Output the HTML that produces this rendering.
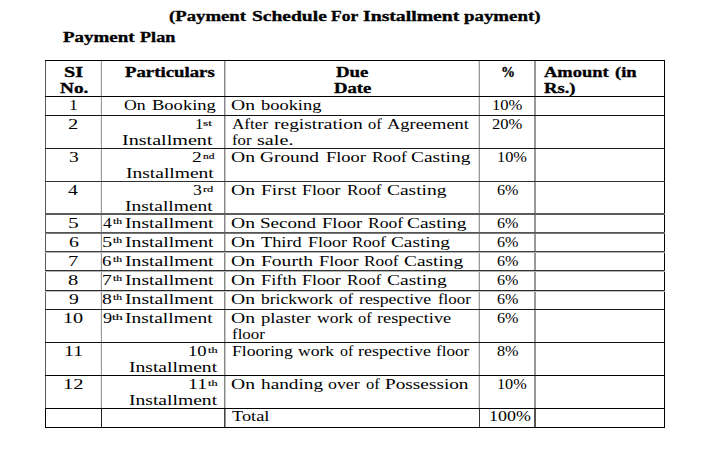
<!DOCTYPE html>
<html><head><meta charset="utf-8"><style>
html,body{margin:0;padding:0;background:#fff;width:720px;height:457px;overflow:hidden}
body{position:relative;font-family:"Liberation Serif",serif;color:#000}
.t{position:absolute;white-space:pre;line-height:40px;transform-origin:0 0}
.l{position:absolute}
.b14_0{font-weight:bold;font-size:14.0px;-webkit-text-stroke:0.3px #000}
.r14_0{font-weight:normal;font-size:14.0px}
.r9_0{font-weight:normal;font-size:9.0px;-webkit-text-stroke:0.15px #000}

</style></head><body>
<div class="l" style="left:45px;top:60px;width:1px;height:348px;background:#5a5a5a"></div><div class="l" style="left:45px;top:408px;width:1px;height:20px;background:#000"></div><div class="l" style="left:100px;top:60px;width:1px;height:348px;background:#eee"></div><div class="l" style="left:101px;top:60px;width:1px;height:348px;background:#999"></div><div class="l" style="left:101px;top:408px;width:1px;height:20px;background:#222"></div><div class="l" style="left:224px;top:60px;width:1px;height:348px;background:#888"></div><div class="l" style="left:225px;top:60px;width:1px;height:348px;background:#c8c8c8"></div><div class="l" style="left:224px;top:408px;width:1px;height:20px;background:#444"></div><div class="l" style="left:225px;top:408px;width:1px;height:20px;background:#999"></div><div class="l" style="left:478px;top:60px;width:1px;height:348px;background:#e0e0e0"></div><div class="l" style="left:479px;top:60px;width:1px;height:348px;background:#999"></div><div class="l" style="left:479px;top:408px;width:1px;height:20px;background:#333"></div><div class="l" style="left:534px;top:60px;width:1px;height:348px;background:#999"></div><div class="l" style="left:535px;top:60px;width:1px;height:348px;background:#999"></div><div class="l" style="left:534px;top:408px;width:1px;height:20px;background:#555"></div><div class="l" style="left:535px;top:408px;width:1px;height:20px;background:#555"></div><div class="l" style="left:664px;top:60px;width:1px;height:368px;background:#000"></div><div class="l" style="left:45px;top:60px;width:620px;height:1px;background:#000"></div><div class="l" style="left:45px;top:96px;width:620px;height:1px;background:#000"></div><div class="l" style="left:45px;top:115px;width:620px;height:1px;background:#111"></div><div class="l" style="left:45px;top:148px;width:620px;height:1px;background:#1a1a1a"></div><div class="l" style="left:45px;top:181px;width:620px;height:1px;background:#303030"></div><div class="l" style="left:45px;top:213px;width:620px;height:1px;background:#5c5c5c"></div><div class="l" style="left:45px;top:214px;width:620px;height:1px;background:#5c5c5c"></div><div class="l" style="left:45px;top:232px;width:620px;height:1px;background:#555"></div><div class="l" style="left:45px;top:233px;width:620px;height:1px;background:#777"></div><div class="l" style="left:45px;top:251px;width:620px;height:1px;background:#444"></div><div class="l" style="left:45px;top:252px;width:620px;height:1px;background:#b0b0b0"></div><div class="l" style="left:45px;top:270px;width:620px;height:1px;background:#333"></div><div class="l" style="left:45px;top:271px;width:620px;height:1px;background:#b0b0b0"></div><div class="l" style="left:45px;top:290px;width:620px;height:1px;background:#2a2a2a"></div><div class="l" style="left:45px;top:291px;width:620px;height:1px;background:#c0c0c0"></div><div class="l" style="left:45px;top:309px;width:620px;height:1px;background:#1c1c1c"></div><div class="l" style="left:45px;top:342px;width:620px;height:1px;background:#0f0f0f"></div><div class="l" style="left:45px;top:375px;width:620px;height:1px;background:#000"></div><div class="l" style="left:45px;top:408px;width:620px;height:1px;background:#000"></div><div class="l" style="left:45px;top:427px;width:620px;height:1px;background:#000"></div>
<div class="t b14_0" style="left:169.43px;top:-3.20px;transform:scaleX(1.3368)">(Payment</div>
<div class="t b14_0" style="left:251.55px;top:-3.20px;transform:scaleX(1.3934)">Schedule</div>
<div class="t b14_0" style="left:330.89px;top:-3.20px;transform:scaleX(1.2471)">For</div>
<div class="t b14_0" style="left:362.75px;top:-3.20px;transform:scaleX(1.4081)">Installment</div>
<div class="t b14_0" style="left:463.80px;top:-3.20px;transform:scaleX(1.3476)">payment)</div>
<div class="t b14_0" style="left:62.76px;top:17.70px;transform:scaleX(1.3536)">Payment</div>
<div class="t b14_0" style="left:139.58px;top:17.70px;transform:scaleX(1.2972)">Plan</div>
<div class="t b14_0" style="left:63.92px;top:52.80px;transform:scaleX(1.4449)">SI</div>
<div class="t b14_0" style="left:59.66px;top:68.70px;transform:scaleX(1.3772)">No.</div>
<div class="t b14_0" style="left:124.96px;top:52.70px;transform:scaleX(1.3419)">Particulars</div>
<div class="t b14_0" style="left:336.36px;top:52.80px;transform:scaleX(1.3447)">Due</div>
<div class="t b14_0" style="left:333.67px;top:68.50px;transform:scaleX(1.3345)">Date</div>
<div class="t b14_0" style="left:501.05px;top:53.20px;transform:scaleX(1.0000)">%</div>
<div class="t b14_0" style="left:544.40px;top:52.90px;transform:scaleX(1.3184)">Amount</div>
<div class="t b14_0" style="left:614.54px;top:52.90px;transform:scaleX(1.3206)">(in</div>
<div class="t b14_0" style="left:544.07px;top:68.60px;transform:scaleX(1.3304)">Rs.)</div>
<div class="t r14_0" style="left:69.22px;top:86.00px;transform:scaleX(1.2600)">1</div>
<div class="t r14_0" style="left:68.47px;top:105.00px;transform:scaleX(1.4609)">2</div>
<div class="t r14_0" style="left:68.50px;top:138.00px;transform:scaleX(1.4000)">3</div>
<div class="t r14_0" style="left:68.35px;top:171.00px;transform:scaleX(1.4074)">4</div>
<div class="t r14_0" style="left:68.05px;top:203.60px;transform:scaleX(1.5304)">5</div>
<div class="t r14_0" style="left:68.50px;top:222.90px;transform:scaleX(1.4080)">6</div>
<div class="t r14_0" style="left:68.10px;top:241.60px;transform:scaleX(1.4667)">7</div>
<div class="t r14_0" style="left:68.47px;top:260.60px;transform:scaleX(1.4667)">8</div>
<div class="t r14_0" style="left:68.85px;top:279.70px;transform:scaleX(1.4080)">9</div>
<div class="t r14_0" style="left:63.49px;top:299.30px;transform:scaleX(1.4449)">10</div>
<div class="t r14_0" style="left:63.53px;top:332.40px;transform:scaleX(1.4174)">11</div>
<div class="t r14_0" style="left:63.46px;top:365.20px;transform:scaleX(1.4750)">12</div>
<div class="t r14_0" style="left:123.87px;top:86.00px;transform:scaleX(1.2667)">On</div>
<div class="t r14_0" style="left:152.07px;top:86.00px;transform:scaleX(1.3236)">Booking</div>
<div class="t r14_0" style="left:195.10px;top:105.00px;transform:scaleX(1.2000)">1</div>
<div class="t r9_0" style="left:203.43px;top:102.60px;transform:scaleX(1.4783)">st</div>
<div class="t r14_0" style="left:122.38px;top:120.80px;transform:scaleX(1.4368)">Installment</div>
<div class="t r14_0" style="left:192.30px;top:138.00px;transform:scaleX(1.3913)">2</div>
<div class="t r9_0" style="left:202.60px;top:135.60px;transform:scaleX(1.2778)">nd</div>
<div class="t r14_0" style="left:126.00px;top:153.80px;transform:scaleX(1.3936)">Installment</div>
<div class="t r14_0" style="left:193.27px;top:171.00px;transform:scaleX(1.2667)">3</div>
<div class="t r9_0" style="left:202.60px;top:168.60px;transform:scaleX(1.3733)">rd</div>
<div class="t r14_0" style="left:125.10px;top:186.80px;transform:scaleX(1.3936)">Installment</div>
<div class="t r14_0" style="left:102.79px;top:203.60px;transform:scaleX(1.2444)">4</div>
<div class="t r9_0" style="left:112.80px;top:201.00px;transform:scaleX(1.3000)">th</div>
<div class="t r14_0" style="left:124.80px;top:203.60px;transform:scaleX(1.4048)">Installment</div>
<div class="t r14_0" style="left:102.00px;top:222.90px;transform:scaleX(1.4609)">5</div>
<div class="t r9_0" style="left:112.80px;top:220.30px;transform:scaleX(1.3000)">th</div>
<div class="t r14_0" style="left:124.80px;top:222.90px;transform:scaleX(1.4048)">Installment</div>
<div class="t r14_0" style="left:102.43px;top:241.60px;transform:scaleX(1.3440)">6</div>
<div class="t r9_0" style="left:112.80px;top:239.00px;transform:scaleX(1.3000)">th</div>
<div class="t r14_0" style="left:124.80px;top:241.60px;transform:scaleX(1.4048)">Installment</div>
<div class="t r14_0" style="left:102.05px;top:260.60px;transform:scaleX(1.4000)">7</div>
<div class="t r9_0" style="left:112.80px;top:258.00px;transform:scaleX(1.3000)">th</div>
<div class="t r14_0" style="left:124.80px;top:260.60px;transform:scaleX(1.4048)">Installment</div>
<div class="t r14_0" style="left:102.40px;top:279.70px;transform:scaleX(1.4000)">8</div>
<div class="t r9_0" style="left:112.80px;top:277.10px;transform:scaleX(1.3000)">th</div>
<div class="t r14_0" style="left:124.80px;top:279.70px;transform:scaleX(1.4048)">Installment</div>
<div class="t r14_0" style="left:102.97px;top:299.30px;transform:scaleX(1.3120)">9</div>
<div class="t r9_0" style="left:112.30px;top:296.70px;transform:scaleX(1.5429)">th</div>
<div class="t r14_0" style="left:125.10px;top:299.30px;transform:scaleX(1.3904)">Installment</div>
<div class="t r14_0" style="left:188.44px;top:332.40px;transform:scaleX(1.3306)">10</div>
<div class="t r9_0" style="left:207.80px;top:329.80px;transform:scaleX(1.3571)">th</div>
<div class="t r14_0" style="left:129.20px;top:348.20px;transform:scaleX(1.3984)">Installment</div>
<div class="t r14_0" style="left:188.33px;top:365.20px;transform:scaleX(1.4174)">11</div>
<div class="t r9_0" style="left:207.80px;top:362.60px;transform:scaleX(1.3571)">th</div>
<div class="t r14_0" style="left:129.20px;top:381.00px;transform:scaleX(1.3984)">Installment</div>
<div class="t r14_0" style="left:231.30px;top:86.00px;transform:scaleX(1.4000)">On</div>
<div class="t r14_0" style="left:261.40px;top:86.00px;transform:scaleX(1.3158)">booking</div>
<div class="t r14_0" style="left:232.00px;top:105.00px;transform:scaleX(1.2237)">After</div>
<div class="t r14_0" style="left:274.25px;top:105.00px;transform:scaleX(1.3913)">registration</div>
<div class="t r14_0" style="left:368.01px;top:105.00px;transform:scaleX(1.1733)">of</div>
<div class="t r14_0" style="left:386.60px;top:105.00px;transform:scaleX(1.3173)">Agreement</div>
<div class="t r14_0" style="left:231.70px;top:120.80px;transform:scaleX(1.1937)">for</div>
<div class="t r14_0" style="left:257.08px;top:120.80px;transform:scaleX(1.4417)">sale.</div>
<div class="t r14_0" style="left:231.30px;top:138.00px;transform:scaleX(1.4000)">On</div>
<div class="t r14_0" style="left:260.21px;top:138.00px;transform:scaleX(1.3799)">Ground</div>
<div class="t r14_0" style="left:326.32px;top:138.00px;transform:scaleX(1.3167)">Floor</div>
<div class="t r14_0" style="left:371.59px;top:138.00px;transform:scaleX(1.2432)">Roof</div>
<div class="t r14_0" style="left:411.31px;top:138.00px;transform:scaleX(1.3881)">Casting</div>
<div class="t r14_0" style="left:231.30px;top:171.00px;transform:scaleX(1.4000)">On</div>
<div class="t r14_0" style="left:260.55px;top:171.00px;transform:scaleX(1.3882)">First</div>
<div class="t r14_0" style="left:302.18px;top:171.00px;transform:scaleX(1.2683)">Floor</div>
<div class="t r14_0" style="left:346.84px;top:171.00px;transform:scaleX(1.2360)">Roof</div>
<div class="t r14_0" style="left:386.50px;top:171.00px;transform:scaleX(1.3905)">Casting</div>
<div class="t r14_0" style="left:231.30px;top:203.60px;transform:scaleX(1.4000)">On</div>
<div class="t r14_0" style="left:259.88px;top:203.60px;transform:scaleX(1.3590)">Second</div>
<div class="t r14_0" style="left:321.97px;top:203.60px;transform:scaleX(1.3267)">Floor</div>
<div class="t r14_0" style="left:367.79px;top:203.60px;transform:scaleX(1.2541)">Roof</div>
<div class="t r14_0" style="left:407.21px;top:203.60px;transform:scaleX(1.3881)">Casting</div>
<div class="t r14_0" style="left:231.30px;top:222.90px;transform:scaleX(1.4000)">On</div>
<div class="t r14_0" style="left:260.57px;top:222.90px;transform:scaleX(1.3073)">Third</div>
<div class="t r14_0" style="left:307.58px;top:222.90px;transform:scaleX(1.2867)">Floor</div>
<div class="t r14_0" style="left:352.30px;top:222.90px;transform:scaleX(1.2108)">Roof</div>
<div class="t r14_0" style="left:391.46px;top:222.90px;transform:scaleX(1.3774)">Casting</div>
<div class="t r14_0" style="left:231.30px;top:241.60px;transform:scaleX(1.4000)">On</div>
<div class="t r14_0" style="left:260.55px;top:241.60px;transform:scaleX(1.3946)">Fourth</div>
<div class="t r14_0" style="left:319.42px;top:241.60px;transform:scaleX(1.3033)">Floor</div>
<div class="t r14_0" style="left:364.39px;top:241.60px;transform:scaleX(1.2360)">Roof</div>
<div class="t r14_0" style="left:404.16px;top:241.60px;transform:scaleX(1.3821)">Casting</div>
<div class="t r14_0" style="left:231.30px;top:260.60px;transform:scaleX(1.4000)">On</div>
<div class="t r14_0" style="left:260.57px;top:260.60px;transform:scaleX(1.3111)">Fifth</div>
<div class="t r14_0" style="left:302.18px;top:260.60px;transform:scaleX(1.2783)">Floor</div>
<div class="t r14_0" style="left:347.19px;top:260.60px;transform:scaleX(1.2234)">Roof</div>
<div class="t r14_0" style="left:386.50px;top:260.60px;transform:scaleX(1.3952)">Casting</div>
<div class="t r14_0" style="left:231.30px;top:279.70px;transform:scaleX(1.4000)">On</div>
<div class="t r14_0" style="left:260.90px;top:279.70px;transform:scaleX(1.2502)">brickwork</div>
<div class="t r14_0" style="left:339.40px;top:279.70px;transform:scaleX(1.2089)">of</div>
<div class="t r14_0" style="left:358.68px;top:279.70px;transform:scaleX(1.2693)">respective</div>
<div class="t r14_0" style="left:437.80px;top:279.70px;transform:scaleX(1.2037)">floor</div>
<div class="t r14_0" style="left:231.30px;top:299.30px;transform:scaleX(1.4000)">On</div>
<div class="t r14_0" style="left:260.57px;top:299.30px;transform:scaleX(1.3324)">plaster</div>
<div class="t r14_0" style="left:316.80px;top:299.30px;transform:scaleX(1.2522)">work</div>
<div class="t r14_0" style="left:357.81px;top:299.30px;transform:scaleX(1.1733)">of</div>
<div class="t r14_0" style="left:376.77px;top:299.30px;transform:scaleX(1.3067)">respective</div>
<div class="t r14_0" style="left:231.70px;top:315.10px;transform:scaleX(1.2111)">floor</div>
<div class="t r14_0" style="left:231.69px;top:332.40px;transform:scaleX(1.2586)">Flooring</div>
<div class="t r14_0" style="left:298.20px;top:332.40px;transform:scaleX(1.2522)">work</div>
<div class="t r14_0" style="left:339.73px;top:332.40px;transform:scaleX(1.1378)">of</div>
<div class="t r14_0" style="left:357.78px;top:332.40px;transform:scaleX(1.2853)">respective</div>
<div class="t r14_0" style="left:436.39px;top:332.40px;transform:scaleX(1.2222)">floor</div>
<div class="t r14_0" style="left:231.30px;top:365.20px;transform:scaleX(1.4000)">On</div>
<div class="t r14_0" style="left:260.90px;top:365.20px;transform:scaleX(1.3756)">handing</div>
<div class="t r14_0" style="left:328.46px;top:365.20px;transform:scaleX(1.2742)">over</div>
<div class="t r14_0" style="left:366.41px;top:365.20px;transform:scaleX(1.1822)">of</div>
<div class="t r14_0" style="left:385.46px;top:365.20px;transform:scaleX(1.3759)">Possession</div>
<div class="t r14_0" style="left:231.57px;top:397.20px;transform:scaleX(1.3107)">Total</div>
<div class="t r14_0" style="left:492.32px;top:86.00px;transform:scaleX(1.1833)">10%</div>
<div class="t r14_0" style="left:492.31px;top:105.00px;transform:scaleX(1.1838)">20%</div>
<div class="t r14_0" style="left:497.34px;top:138.00px;transform:scaleX(1.1667)">10%</div>
<div class="t r14_0" style="left:497.13px;top:171.00px;transform:scaleX(1.1493)">6%</div>
<div class="t r14_0" style="left:497.13px;top:203.60px;transform:scaleX(1.1493)">6%</div>
<div class="t r14_0" style="left:497.13px;top:222.90px;transform:scaleX(1.1493)">6%</div>
<div class="t r14_0" style="left:497.13px;top:241.60px;transform:scaleX(1.1493)">6%</div>
<div class="t r14_0" style="left:497.13px;top:260.60px;transform:scaleX(1.1493)">6%</div>
<div class="t r14_0" style="left:497.13px;top:279.70px;transform:scaleX(1.1493)">6%</div>
<div class="t r14_0" style="left:497.13px;top:299.30px;transform:scaleX(1.1493)">6%</div>
<div class="t r14_0" style="left:497.22px;top:332.40px;transform:scaleX(1.1549)">8%</div>
<div class="t r14_0" style="left:497.35px;top:365.20px;transform:scaleX(1.1583)">10%</div>
<div class="t r14_0" style="left:488.70px;top:397.20px;transform:scaleX(1.2806)">100%</div>
</body></html>
